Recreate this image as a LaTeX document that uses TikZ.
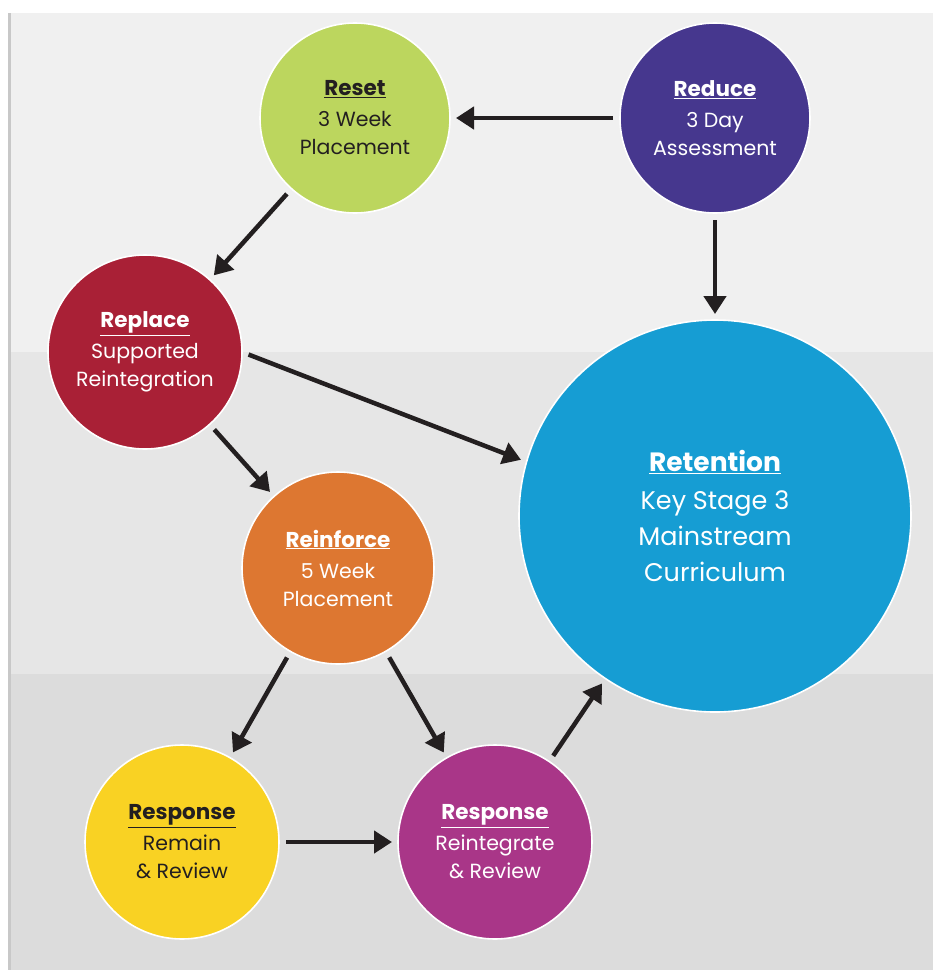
\documentclass[tikz,border=0pt]{standalone}
\usepackage{fontspec}
\setmainfont{Poppins}
\usetikzlibrary{arrows.meta}
\definecolor{bgA}{HTML}{F0F0F0}
\definecolor{bgB}{HTML}{E6E6E6}
\definecolor{bgC}{HTML}{DCDCDC}
\definecolor{edgeL}{HTML}{C8C8C8}
\definecolor{cGreen}{HTML}{BCD65E}
\definecolor{cIndigo}{HTML}{46378E}
\definecolor{cRed}{HTML}{A92036}
\definecolor{cOrange}{HTML}{DD7731}
\definecolor{cBlue}{HTML}{169DD3}
\definecolor{cYellow}{HTML}{F9D223}
\definecolor{cMagenta}{HTML}{A93688}
\definecolor{ink}{HTML}{231F20}
\tikzset{
  bubble/.style={circle, draw=white, line width=1.6pt, inner sep=0pt, outer sep=0pt,
    align=center, font=\fontsize{20.5}{28}\selectfont},
  big/.style={bubble, font=\fontsize{25.5}{36}\selectfont},
  flow/.style={draw=ink, line width=4.5pt,
    -{Triangle[length=18pt,width=22pt]}, shorten <=7pt, shorten >=6pt}
}
\newcommand{\ttl}[1]{{\fontsize{21.5}{28}\selectfont\bfseries\underline{#1}}}
\newcommand{\bigttl}[1]{{\fontsize{26.5}{36}\selectfont\bfseries\underline{#1}}}
\begin{document}
\begin{tikzpicture}[x=1pt,y=-1pt]
\useasboundingbox (0,0) rectangle (933,970);
\fill[white] (0,0) rectangle (933,970);
\fill[bgA] (8,13) rectangle (933,352);
\fill[bgB] (8,352) rectangle (933,674);
\fill[bgC] (8,674) rectangle (933,970);
\fill[edgeL] (8,13) rectangle (11,970);

\node[bubble, fill=cGreen, minimum size=190pt, text=ink] (reset) at (355,118)
  {\ttl{Reset}\\[3pt]3 Week\\Placement};
\node[bubble, fill=cIndigo, minimum size=190pt, text=white] (reduce) at (715,118)
  {\ttl{Reduce}\\[3pt]3 Day\\Assessment};
\node[bubble, fill=cRed, minimum size=194pt, text=white] (replace) at (145,352)
  {\ttl{Replace}\\[3pt]Supported\\Reintegration};
\node[bubble, fill=cOrange, minimum size=192pt, text=white] (reinforce) at (338,568)
  {\ttl{Reinforce}\\[3pt]5 Week\\Placement};
\node[big, fill=cBlue, minimum size=392pt, text=white] (retention) at (715,516)
  {\bigttl{Retention}\\[2pt]Key Stage 3\\Mainstream\\Curriculum};
\node[bubble, fill=cYellow, minimum size=194pt, text=ink] (remain) at (182,842)
  {\ttl{Response}\\[3pt]Remain\\\& Review};
\node[bubble, fill=cMagenta, minimum size=194pt, text=white] (reint) at (495,842)
  {\ttl{Response}\\[3pt]Reintegrate\\\& Review};

\draw[flow] (reduce) -- (reset);
\draw[flow] (reduce) -- (retention);
\draw[flow] (reset) -- (replace);
\draw[flow] (replace.east) -- (retention.164);
\draw[flow] (replace) -- (reinforce);
\draw[flow] (reinforce) -- (remain);
\draw[flow] (reinforce) -- (reint);
\draw[flow] (remain) -- (reint);
\draw[flow] (reint) -- (retention);
\end{tikzpicture}
\end{document}
